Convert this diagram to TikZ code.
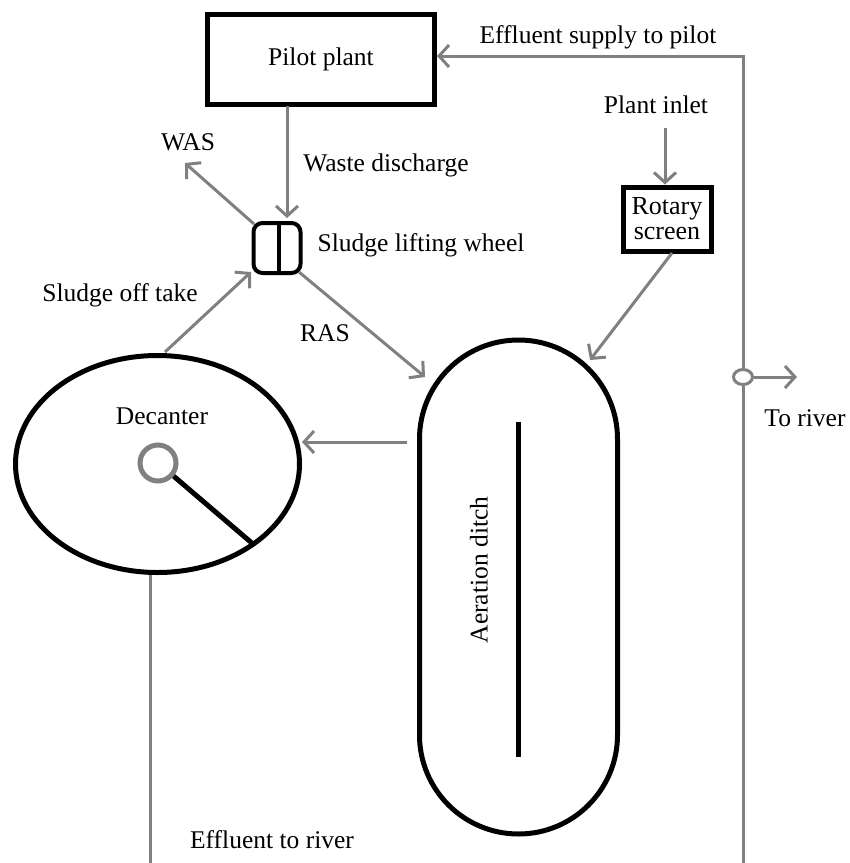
\documentclass[tikz,border=0pt]{standalone}
\usepackage{fontspec}
\setmainfont{Liberation Serif}
\usetikzlibrary{arrows.meta,shapes.geometric}
\definecolor{pipegray}{RGB}{128,128,128}
\begin{document}
\begin{tikzpicture}[x=1pt,y=-1pt,
  lbl/.style={font=\fontsize{25.5}{26}\selectfont, inner sep=0pt},
  pipe/.style={draw=pipegray, line width=3pt},
  flow/.style={pipe, -{Straight Barb[length=10pt,width=22pt,line width=3pt]}},
  heavy/.style={draw=black, line width=5pt},
]
\useasboundingbox (0,0) rectangle (850,863);

% equipment
\node[heavy, minimum width=227pt, minimum height=90pt, inner sep=0pt, lbl] (pilot) at (321,59) {Pilot plant};
\node[heavy, line width=4pt, rounded corners=9pt, minimum width=47pt, minimum height=50pt, inner sep=0pt] (wheel) at (277,248) {};
\coordinate (divtop) at (279,224);
\coordinate (divbot) at (279,272);
\draw[line width=4pt] (divtop) -- (divbot);
\node[heavy, minimum width=88pt, minimum height=64pt, inner sep=0pt, align=center, font=\fontsize{26}{25}\selectfont] (rotary) at (667,219) {Rotary\\screen};
\node[heavy, rounded corners=99pt, minimum width=198pt, minimum height=494pt, inner sep=0pt] (ditch) at (518.5,587) {};
\coordinate (bartop) at (518,422);
\coordinate (barbot) at (518,757);
\draw[line width=5pt] (bartop) -- (barbot);
\node[lbl, rotate=90] (ditchlbl) at (479,570) {Aeration ditch};
\node[heavy, ellipse, minimum width=284pt, minimum height=217pt, inner sep=0pt] (decanter) at (157.5,464) {};
\node[lbl] (decanterlbl) at (162,416) {Decanter};
\node[draw=pipegray, line width=5pt, circle, minimum size=36pt, inner sep=0pt] (hub) at (158,463) {};
\coordinate (armend) at (253,544);
\draw[line width=5pt] (hub.-40) -- (armend);

% pipes
\coordinate (rtop) at (743,56);
\coordinate (rbot) at (743,863);
\node[draw=pipegray, line width=3pt, ellipse, minimum width=19pt, minimum height=15pt, inner sep=0pt, fill=white] (tee) at (743,377) {};
\draw[pipe] (rbot) -- (tee.south);
\draw[flow] (tee.north) -- (rtop) -- (pilot.east |- rtop);
\coordinate (river) at (797,377);
\draw[flow] (tee.east) -- (river);
\node[lbl] (toriver) at (805,418) {To river};
\node[lbl] (supply) at (598,37) {Effluent supply to pilot};

\node[lbl] (inlet) at (656,105) {Plant inlet};
\coordinate (inlettop) at (665,128);
\draw[flow] (inlettop) -- (rotary.north -| inlettop);
\coordinate (rsout) at (672,253);
\coordinate (ditchin) at (590,360);
\draw[flow] (rsout) -- (ditchin);

\coordinate (wdtop) at (287,106);
\coordinate (wdbot) at (287,218);
\draw[flow] (wdtop) -- (wdbot);
\node[lbl] (wastelbl) at (386,165) {Waste discharge};

\coordinate (wasfrom) at (254,224);
\coordinate (wasto) at (185,163);
\draw[flow] (wasfrom) -- (wasto);
\node[lbl] (waslbl) at (188,142) {WAS};

\node[lbl] (wheellbl) at (421,245) {Sludge lifting wheel};

\coordinate (offfrom) at (165,352);
\coordinate (offto) at (251,272);
\draw[flow] (offfrom) -- (offto);
\node[lbl] (offlbl) at (120,295) {Sludge off take};

\coordinate (rasfrom) at (299,272);
\coordinate (rasto) at (425,377);
\draw[flow] (rasfrom) -- (rasto);
\node[lbl] (raslbl) at (325,333) {RAS};

\coordinate (mlfrom) at (407,442);
\coordinate (mlto) at (302,442);
\draw[flow] (mlfrom) -- (mlto);

\coordinate (efftop) at (150,575);
\coordinate (effbot) at (150,863);
\draw[pipe] (efftop) -- (effbot);
\node[lbl] (efflbl) at (272,840) {Effluent to river};
\end{tikzpicture}
\end{document}
